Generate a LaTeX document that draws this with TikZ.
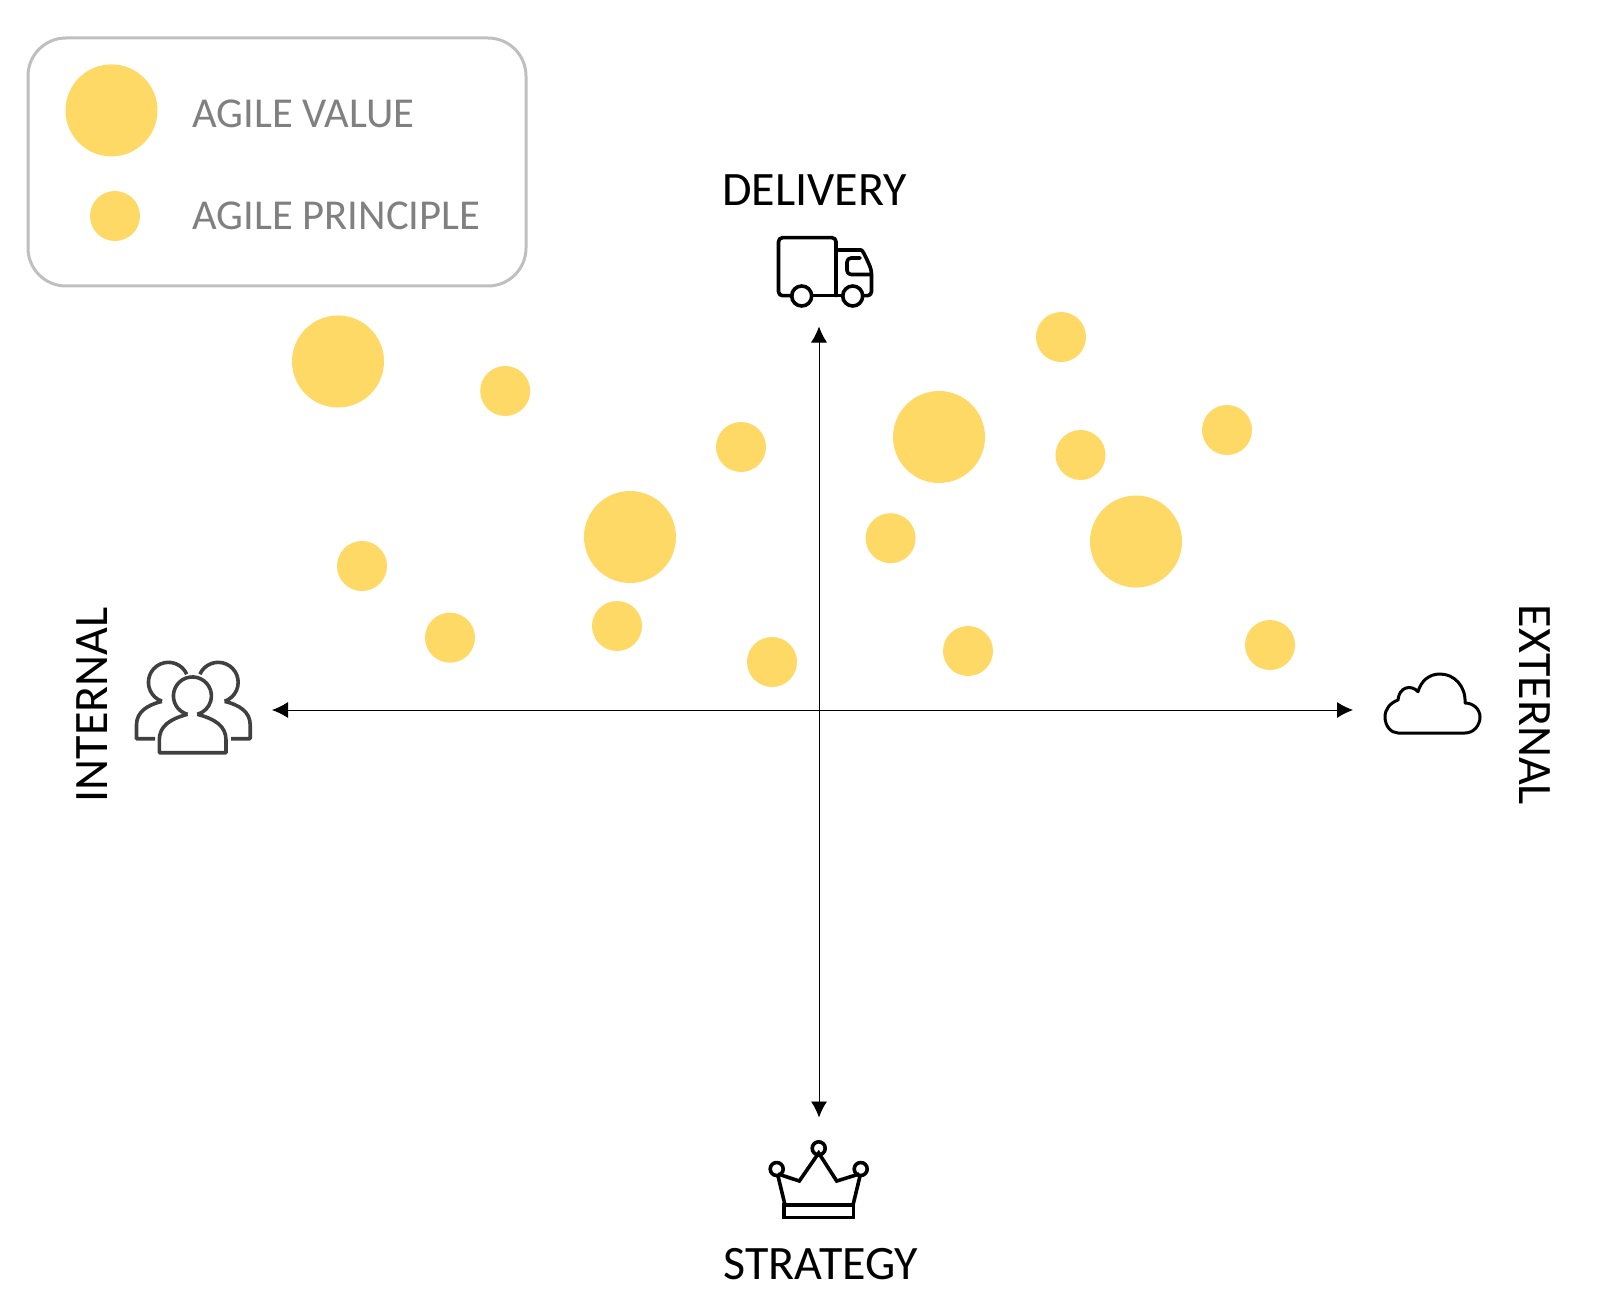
\documentclass[tikz,border=0pt]{standalone}
\usepackage{fontspec}
\setmainfont{Carlito}
\usepackage{xcolor}
\usetikzlibrary{arrows.meta}
\definecolor{agileyellow}{HTML}{FFD966}
\tikzset{
    valuedot/.style={circle,fill=agileyellow,inner sep=0pt,minimum size=46pt},
    principledot/.style={circle,fill=agileyellow,inner sep=0pt,minimum size=25pt},
    legendtext/.style={anchor=west,inner sep=0pt,text=black!50,font=\fontsize{21.3pt}{25pt}\selectfont},
    axislabel/.style={inner sep=0pt,font=\fontsize{24pt}{29pt}\selectfont},
    icon/.style={line width=1.8pt,line join=round,line cap=round},
}

\begin{document}
\begin{tikzpicture}[x=0.5pt,y=-0.5pt]
        \useasboundingbox (0,0) rectangle (1620,1310);

        % legend
        \draw[line width=1.5pt,draw=black!25,rounded corners=19pt] (28,38) rectangle (526,286);
        \node[valuedot] (legendvalue) at (111.5,110.4) {};
        \node[principledot] (legendprinciple) at (115,216) {};
        \node[legendtext] (legendvaluetext) at (192,114) {AGILE VALUE};
        \node[legendtext] (legendprincipletext) at (192,216) {AGILE PRINCIPLE};

        % values
        \node[valuedot] (value1) at (338,361.5) {};
        \node[valuedot] (value2) at (939,437) {};
        \node[valuedot] (value3) at (630,537) {};
        \node[valuedot] (value4) at (1136,541.5) {};

        % principles
        \node[principledot] (principle1) at (505.2,391) {};
        \node[principledot] (principle2) at (1061,337) {};
        \node[principledot] (principle3) at (1227,430) {};
        \node[principledot] (principle4) at (741,447) {};
        \node[principledot] (principle5) at (1080.5,455) {};
        \node[principledot] (principle6) at (890.6,538.2) {};
        \node[principledot] (principle7) at (362,566) {};
        \node[principledot] (principle8) at (450,637.7) {};
        \node[principledot] (principle9) at (617,626) {};
        \node[principledot] (principle10) at (772,662) {};
        \node[principledot] (principle11) at (968,651) {};
        \node[principledot] (principle12) at (1270,645) {};

        % axes
        \coordinate (axisleft) at (272,710);
        \coordinate (axisright) at (1353,710);
        \coordinate (axistop) at (819,326.5);
        \coordinate (axisbottom) at (819,1117.5);
        \draw[{Latex[length=8pt,width=8pt]}-{Latex[length=8pt,width=8pt]},line width=0.45pt] (axisleft)--(axisright);
        \draw[{Latex[length=8pt,width=8pt]}-{Latex[length=8pt,width=8pt]},line width=0.45pt] (axistop)--(axisbottom);

        \node[axislabel] (delivery) at (814.5,190) {DELIVERY};
        \node[axislabel] (strategy) at (821,1264.5) {STRATEGY};
        \node[axislabel,rotate=90] (internal) at (92,705) {INTERNAL};
        \node[axislabel,rotate=-90] (external) at (1535,705) {EXTERNAL};

        % truck
        \draw[icon,rounded corners=2pt] (792,295.7)--(778.5,295.7)--(778.5,237.7)--(836,237.7)--(836,295.7);
        \draw[icon] (811.7,295.7)--(842.7,295.7);
        \draw[icon,rounded corners=2pt] (836,250)--(857,250) .. controls (863,250) and (868,262) .. (871.5,270)--(871.5,295.7)--(863,295.7);
        \draw[icon,rounded corners=2pt] (870.5,274.5)--(847,274.5)--(847,258)--(860,258);
        \draw[icon] (801.7,296) circle[radius=10];
        \draw[icon] (852.7,296) circle[radius=10];

        % people
        \begin{scope}[icon,draw=black!75,line cap=butt]
        \draw (187.5,714.3) arc[start angle=-105,end angle=-435,radius=9.5pt];
        \draw (187.5,714.3) .. controls (170,719) and (159.3,726) .. (159.3,740)--(159.3,752.7)--(226,752.7)--(226,740) .. controls (226,726) and (215,719) .. (197.3,714.3);
        \draw (186.7,674.2) arc[start angle=24,end angle=251,radius=10pt];
        \draw (161.9,701.4) .. controls (147,705) and (136.5,712) .. (136.5,725)--(136.5,738.7)--(155,738.7);
        \draw (199.9,674.2) arc[start angle=156,end angle=-71,radius=10pt];
        \draw (224.7,701.4) .. controls (239.7,705) and (250.2,712) .. (250.2,725)--(250.2,738.7)--(231,738.7);
        \end{scope}

        % cloud
        \draw[icon,line width=1.5pt] (1398,733)--(1465,733) .. controls (1474,733) and (1480,725) .. (1480,717) .. controls (1480,709) and (1473,703) .. (1465,703) .. controls (1466,686) and (1454,674) .. (1440,674) .. controls (1429,674) and (1421,681) .. (1418,691.7) .. controls (1411,684) and (1399,687) .. (1398,700) .. controls (1390,703) and (1385,709) .. (1385,717) .. controls (1385,726) and (1391,733) .. (1398,733)--cycle;

        % crown
        \draw[icon,line cap=butt,line join=miter] (778,1176)--(785,1205)--(853,1205)--(860,1176);
        \draw[icon,line cap=butt,line join=miter] (778,1174)--(799.3,1181)--(818.7,1153)--(836.7,1181)--(859.3,1174);
        \draw[icon,line cap=butt,line join=miter] (784,1205) rectangle (853.3,1217.3);
        \draw[icon] (818.7,1148.3) circle[radius=6.5];
        \draw[icon] (776.7,1169) circle[radius=6.5];
        \draw[icon] (860.7,1169) circle[radius=6.5];
\end{tikzpicture}
\end{document}
